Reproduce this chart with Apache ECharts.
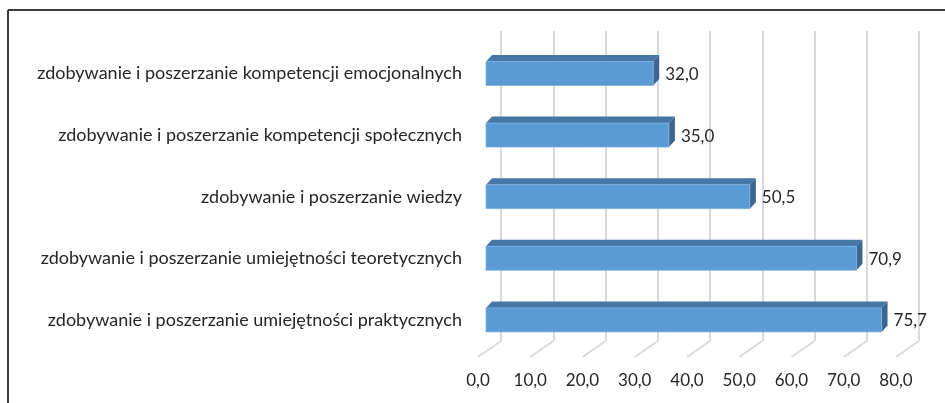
<!DOCTYPE html>
<html>
<head>
<meta charset="utf-8">
<script src="https://cdn.jsdelivr.net/npm/echarts@6/dist/echarts.min.js"></script>
<style>
  html, body { margin: 0; padding: 0; background: #fff; }
  #chart { width: 945px; height: 403px; }
</style>
</head>
<body>
<div id="chart"></div>
<script>
// categories top to bottom, as in the picture
const categories = [
  'zdobywanie i poszerzanie kompetencji emocjonalnych',
  'zdobywanie i poszerzanie kompetencji społecznych',
  'zdobywanie i poszerzanie wiedzy',
  'zdobywanie i poszerzanie umiejętności teoretycznych',
  'zdobywanie i poszerzanie umiejętności praktycznych'
]
const values = [32.0, 35.0, 50.5, 70.9, 75.7]
const ticks = [0, 10, 20, 30, 40, 50, 60, 70, 80]

const font = 'Lato'
const fmt = v => v.toFixed(1).replace('.', ',')

// 3d look of the bars
const depthX = 6, depthY = 6.5, barH = 24

let chart = echarts.init(document.getElementById('chart'))

const valueAxis = (gridIndex, extra) => Object.assign({
  type: 'value', gridIndex: gridIndex, min: 0, max: 80, interval: 10,
  axisLine: { show: false }, axisTick: { show: false },
  axisLabel: { show: false }, splitLine: { show: false }
}, extra)

let option = {
  animation: false,
  grid: [
    // front edge of the floor (axis labels)
    { left: 478, width: 418, top: 300, bottom: 46 },
    // bars
    { left: 486, width: 418, top: 42.7, height: 308 },
    // back wall
    { left: 501, width: 418, top: 31, height: 310 }
  ],
  xAxis: [
    valueAxis(0, {
      axisLabel: {
        show: true, margin: 15, color: '#262626', fontSize: 17, fontFamily: font,
        formatter: v => fmt(v)
      }
    }),
    valueAxis(1),
    valueAxis(2, {
      splitLine: { show: true, lineStyle: { color: '#d9d9d9', width: 2 } }
    })
  ],
  yAxis: [
    { type: 'value', gridIndex: 0, show: false },
    {
      type: 'category', gridIndex: 1, data: categories, inverse: true,
      axisLine: { show: false }, axisTick: { show: false },
      axisLabel: { margin: 24, color: '#262626', fontSize: 18, fontFamily: font }
    },
    { type: 'value', gridIndex: 2, min: 0, max: 1, show: false }
  ],
  graphic: [
    { type: 'line', shape: { x1: 8, y1: 10, x2: 945, y2: 10 }, style: { stroke: '#3a3a3a', lineWidth: 2 } },
    { type: 'line', shape: { x1: 8, y1: 10, x2: 8, y2: 403 }, style: { stroke: '#3a3a3a', lineWidth: 2 } }
  ],
  series: [
    {
      // floor lines from back wall to the front edge
      type: 'custom', xAxisIndex: 2, yAxisIndex: 2,
      data: ticks.map(t => [t, 0]),
      renderItem: (params, api) => {
        const p = api.coord([api.value(0), 0])
        return {
          type: 'line',
          shape: { x1: p[0], y1: p[1], x2: p[0] - 23, y2: p[1] + 16 },
          style: { stroke: '#d9d9d9', lineWidth: 2 }
        }
      }
    },
    {
      type: 'custom', xAxisIndex: 1, yAxisIndex: 1,
      data: values.map((v, i) => [v, i]),
      renderItem: (params, api) => {
        const v = api.value(0), c = api.value(1)
        const p0 = api.coord([0, c]), p1 = api.coord([v, c])
        const x0 = p0[0], x1 = p1[0]
        const yt = p0[1] - barH / 2, yb = p0[1] + barH / 2
        return {
          type: 'group',
          children: [
            {
              type: 'polygon',
              shape: { points: [[x0, yt], [x0 + depthX, yt - depthY], [x1 + depthX, yt - depthY], [x1, yt]] },
              style: { fill: '#4777a6' }
            },
            {
              type: 'polygon',
              shape: { points: [[x1, yt], [x1 + depthX, yt - depthY], [x1 + depthX, yb - depthY], [x1, yb]] },
              style: { fill: '#3b6690' }
            },
            {
              type: 'rect',
              shape: { x: x0, y: yt, width: x1 - x0, height: barH },
              style: { fill: '#5b9bd5', stroke: '#7fb2e0', lineWidth: 0.8 }
            },
            {
              type: 'text',
              style: {
                x: x1 + depthX + 6, y: p0[1] + 1, text: fmt(v),
                fill: '#262626', fontSize: 17, fontFamily: font,
                verticalAlign: 'middle', align: 'left'
              }
            }
          ]
        }
      }
    }
  ]
}

chart.setOption(option)
</script>
</body>
</html>
